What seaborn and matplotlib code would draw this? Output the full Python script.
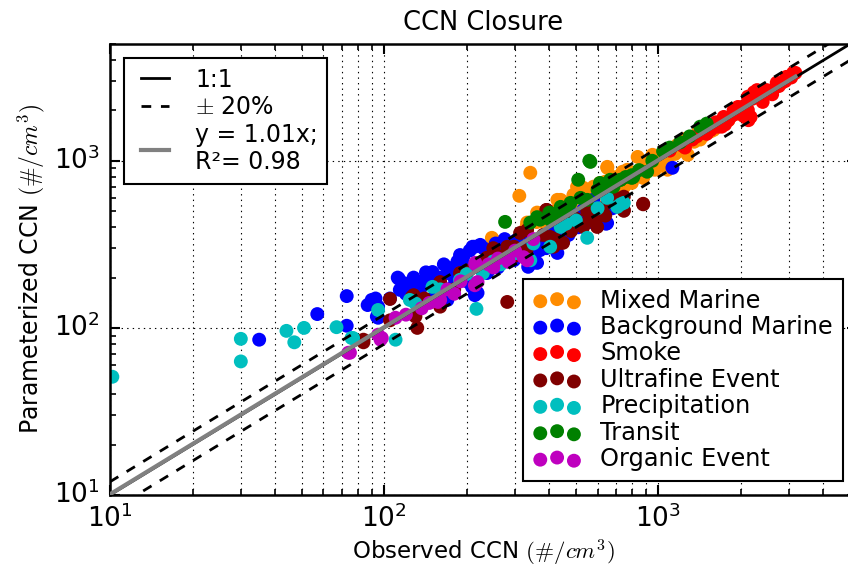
import numpy as np
import pandas as pd
import matplotlib
matplotlib.use("Agg")
import matplotlib.pyplot as plt
import seaborn as sns

# ---- observed / parameterized CCN per air-mass category (#/cm^3) ----
mixed_x = [341, 311, 651, 247, 490, 440, 380, 332, 505, 708, 800, 875, 952, 900, 770, 550, 612, 415,
           651, 795, 880, 970, 1010, 1170, 1290, 1420, 1590, 1280, 935, 1080, 840,
           361, 428, 490, 470, 532, 612, 708, 250,
           600, 650, 700, 750, 820, 860, 920, 1000, 1050, 1100, 1150, 1200, 1350, 1450, 1550, 1700,
           560, 520, 480, 450, 400, 380, 640, 720, 960,
           330, 360, 420, 470, 540, 580, 680, 740, 1250, 1400, 1600, 1800, 2000]
mixed_y = [848, 617, 908, 346, 626, 584, 490, 427, 700, 778, 737, 884, 1086, 975, 884, 670, 700, 444,
           920, 800, 790, 884, 1055, 1240, 1370, 1340, 1530, 1086, 975, 884, 1055,
           490, 584, 610, 509, 690, 737, 800, 336,
           640, 600, 720, 700, 850, 820, 900, 980, 1000, 1080, 1100, 1150, 1300, 1400, 1500, 1650,
           560, 600, 540, 500, 470, 430, 750, 650, 1020,
           400, 430, 500, 560, 650, 700, 800, 860, 1350, 1500, 1600, 1750, 1900]

bgmar_x = [35, 57, 73, 73, 87, 93, 94, 95, 113, 114, 124, 135, 150, 151, 171, 177, 189, 150, 112, 224,
           214, 1125, 645, 146, 214, 151, 170, 237, 304, 361, 428, 403, 532, 578, 627, 449, 370, 335,
           281, 244, 258, 271, 219, 209, 170, 178, 90, 95, 650, 478, 428, 370, 332, 297, 258, 210,
           194, 348, 440, 612,
           120, 130, 140, 160, 180, 200, 230, 250, 280, 300, 320, 340, 380, 420, 460, 500, 550, 600,
           260, 240, 200, 160, 300, 350, 400, 480, 520,
           105, 118, 128, 142, 165, 185, 205, 230, 255, 275, 330, 390, 450, 510, 560, 620, 680, 470]
bgmar_y = [85, 121, 155, 103, 137, 150, 117, 115, 197, 169, 180, 169, 216, 204, 229, 228, 273, 213, 200, 314,
           157, 908, 420, 213, 306, 151, 147, 213, 336, 245, 281, 306, 509, 584, 486, 402, 292, 232,
           254, 265, 232, 306, 162, 176, 213, 176, 147, 134, 424, 490, 402, 306, 281, 254, 281, 306,
           265, 245, 460, 460,
           160, 175, 190, 200, 200, 230, 250, 290, 300, 280, 300, 330, 340, 380, 400, 420, 470, 450,
           230, 220, 190, 170, 260, 290, 350, 430, 440,
           150, 185, 200, 215, 240, 250, 290, 300, 320, 340, 270, 300, 330, 400, 430, 480, 520, 360]

smoke_x = [2020, 2120, 2290, 2480, 2700, 2930, 3160, 2230, 2120, 2020, 1800, 1650, 1550, 1880, 1680,
           1460, 1330, 1730, 2420, 2610, 2820, 3100, 1960, 1830, 2170, 1590, 2130,
           1100, 1200, 1250, 1380, 1500, 1620, 1700, 1900, 2000, 2200, 2350, 2550, 2750, 2900, 3050,
           2600, 2400, 1750, 2050, 1950]
smoke_y = [2100, 2420, 2650, 2650, 2930, 3180, 3360, 2570, 2010, 1930, 1750, 1600, 1530, 2010, 1670,
           1470, 1340, 1830, 2530, 2650, 2930, 3360, 2010, 1830, 1830, 1650, 1750,
           1150, 1250, 1200, 1400, 1450, 1700, 1600, 1900, 2000, 2350, 2400, 2600, 2800, 3000, 3150,
           2500, 2250, 1650, 1850, 2100]

ultra_x = [105, 128, 130, 132, 84, 160, 880, 281, 748, 390, 403, 440, 532, 598, 627, 748, 748, 880,
           313, 332, 250, 281, 392, 598, 415, 449, 297, 237, 189, 160, 126, 105, 84,
           200, 230, 260, 350, 380, 470, 500, 550, 650, 700, 180, 140,
           420, 480, 560, 640, 300, 330]
ultra_y = [149, 157, 117, 100, 85, 134, 553, 143, 502, 508, 350, 323, 402, 402, 486, 610, 508, 549,
           370, 385, 300, 306, 508, 460, 306, 323, 306, 263, 213, 188, 153, 111, 82,
           220, 240, 270, 330, 360, 420, 450, 500, 560, 600, 170, 150,
           340, 380, 440, 470, 270, 290]

precip_x = [10.2, 30, 30, 44, 47, 51, 67, 76, 110, 217, 550, 77, 95, 150, 189, 229, 266, 341, 403,
            440, 748, 708, 124, 728, 160, 200, 250, 300, 350, 460, 500, 600, 650, 130]
precip_y = [51, 86, 63, 96, 82, 100, 101, 87, 85, 130, 346, 87, 128, 176, 194, 213, 240, 254, 306,
            402, 560, 530, 147, 549, 170, 210, 250, 280, 320, 420, 440, 520, 600, 140]

transit_x = [560, 510, 276, 565, 612, 686, 728, 800, 440, 370, 361, 550, 478, 910, 1040, 1200, 1420,
             1500, 810, 728, 341, 403, 600, 667, 800, 620, 700, 760, 850, 950, 1100, 1300, 520, 460,
             420, 400]
transit_y = [1000, 770, 431, 985, 737, 700, 770, 790, 530, 444, 460, 584, 560, 860, 1140, 1290, 1600,
             1670, 800, 770, 427, 444, 670, 770, 820, 680, 760, 800, 880, 1000, 1200, 1400, 600, 500,
             480, 490]

organic_x = [74, 97, 157, 75, 98, 160, 215, 284, 322, 219, 146, 215, 284, 332, 95, 137, 214,
             110, 120, 170, 190, 240, 260, 300, 350, 180, 250]
organic_y = [71, 85, 143, 71, 87, 147, 245, 248, 265, 188, 141, 240, 254, 254, 91, 131, 180,
             115, 120, 170, 190, 240, 260, 290, 340, 160, 230]

categories = ["Mixed Marine", "Background Marine", "Smoke", "Ultrafine Event",
              "Precipitation", "Transit", "Organic Event"]
colors = ["#FF8C00", "#0000FF", "#FF0000", "#800000", "#00BFBF", "#008000", "#BF00BF"]
series = [(mixed_x, mixed_y), (bgmar_x, bgmar_y), (smoke_x, smoke_y), (ultra_x, ultra_y),
          (precip_x, precip_y), (transit_x, transit_y), (organic_x, organic_y)]

fit_slope = 1.01
fit_r2 = 0.98
fit_range = [10, 3160]
x_lim = [10, 5300]
y_lim = [10, 5000]

frames = [pd.DataFrame({"obs": x, "par": y, "type": name})
          for name, (x, y) in zip(categories, series)]
df = pd.concat(frames, ignore_index=True)

plt.style.use("classic")
plt.rcParams["mathtext.fontset"] = "cm"
plt.rcParams["font.family"] = ["DejaVu Sans"]

fig = plt.figure(figsize=(8.48, 5.74), dpi=100, facecolor="white")
# axes run slightly past the right edge of the canvas
ax = fig.add_axes([110 / 848, 79 / 574, 747 / 848, 451 / 574])
ax.set_facecolor("white")

for name, col in zip(categories, colors):
    sub = df[df["type"] == name]
    sns.scatterplot(data=sub, x="obs", y="par", color=col, s=100, linewidth=0,
                    edgecolor="none", label=name, legend=False, ax=ax, zorder=2)

xx = np.array([10, 6000], dtype=float)
l11, = ax.plot(xx, xx, color="k", lw=2, zorder=3)
lpm, = ax.plot(xx, 1.2 * xx, color="k", lw=2, ls="--", dashes=(7, 7), zorder=3)
ax.plot(xx, 0.8 * xx, color="k", lw=2, ls="--", dashes=(7, 7), zorder=3)
fx = np.array(fit_range, dtype=float)
lfit, = ax.plot(fx, fit_slope * fx, color="gray", lw=3, zorder=4)

ax.set_xscale("log")
ax.set_yscale("log")
ax.set_xlim(x_lim)
ax.set_ylim(y_lim)

ax.grid(True, which="major", axis="both", ls=":", color="k", lw=0.8)
ax.grid(True, which="minor", axis="x", ls=":", color="k", lw=0.8)
ax.set_axisbelow(True)

ax.tick_params(which="major", direction="in", length=7, width=1.5, top=True, right=True,
               labelsize=19, pad=7)
ax.tick_params(which="minor", direction="in", length=4, width=1.2, top=True, right=True)
for sp in ax.spines.values():
    sp.set_linewidth(1.8)

ax.set_title("CCN Closure", fontsize=18.5, pad=10)
ax.set_xlabel(r"Observed CCN $(\#/cm^3)$", fontsize=16.5, labelpad=3)
ax.set_ylabel(r"Parameterized CCN $(\#/cm^3)$", fontsize=17, labelpad=5)

leg1 = ax.legend([l11, lpm, lfit],
                 ["1:1", r"$\pm$ 20%", f"y = {fit_slope:.2f}x;\nR\u00b2= {fit_r2:.2f}"],
                 loc="upper left", fontsize=17, handlelength=1.8, labelspacing=0.15,
                 borderaxespad=0.6, fancybox=False, framealpha=1)
leg1.get_frame().set_linewidth(1.5)
leg1.get_frame().set_edgecolor("k")
ax.add_artist(leg1)

handles = [c for c in ax.collections]
leg2 = ax.legend(handles, categories, loc="lower right", fontsize=17.3, scatterpoints=3,
                 labelspacing=0.1, borderaxespad=0.6, fancybox=False, framealpha=1,
                 handletextpad=0.8)
leg2.get_frame().set_linewidth(1.5)
leg2.get_frame().set_edgecolor("k")

fig.savefig("out.png", dpi=100, facecolor="white")
